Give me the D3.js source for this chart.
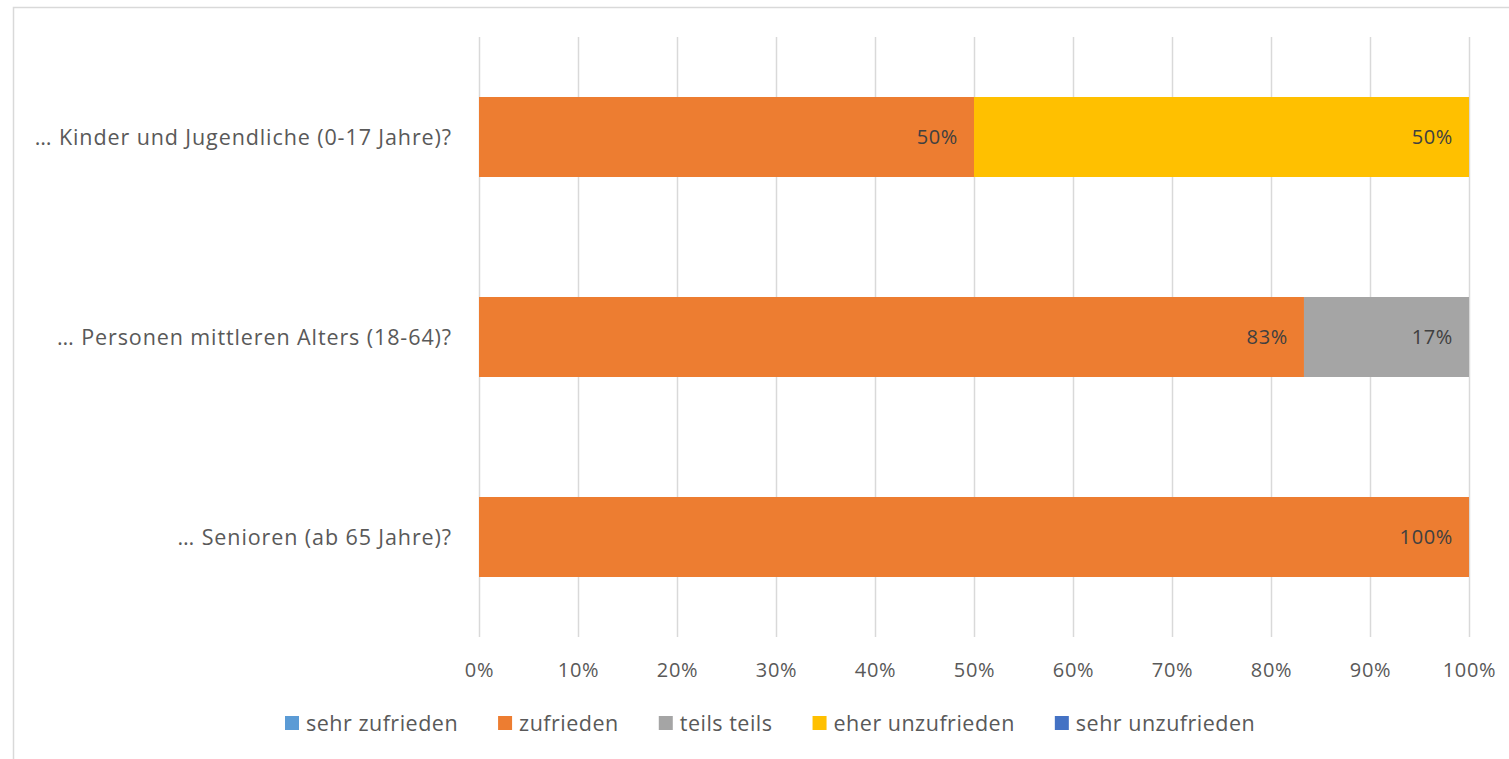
<!DOCTYPE html>
<html>
<head>
<meta charset="utf-8">
<script src="https://cdn.jsdelivr.net/npm/d3@7"></script>
<style>
  html, body { margin: 0; padding: 0; background: #fff; }
  svg { display: block; font-family: "Open Sans", sans-serif; }
</style>
</head>
<body>
<svg id="chart" width="1509" height="759"></svg>
<script>
// Survey answers: share of responses per age group
const categories = [
  "… Kinder und Jugendliche (0-17 Jahre)?",
  "… Personen mittleren Alters (18-64)?",
  "… Senioren (ab 65 Jahre)?"
];
const seriesNames = ["sehr zufrieden", "zufrieden", "teils teils", "eher unzufrieden", "sehr unzufrieden"];
const seriesColors = ["#5B9BD5", "#ED7D31", "#A5A5A5", "#FFC000", "#4472C4"];
const sehrZufrieden   = [0, 0, 0];
const zufrieden       = [50, 83.33, 100];
const teilsTeils      = [0, 16.67, 0];
const eherUnzufrieden = [50, 0, 0];
const sehrUnzufrieden = [0, 0, 0];
const xTicks = [0, 10, 20, 30, 40, 50, 60, 70, 80, 90, 100];

const seriesValues = [sehrZufrieden, zufrieden, teilsTeils, eherUnzufrieden, sehrUnzufrieden];
const rows = categories.map((c, i) => {
  const r = { cat: c };
  seriesNames.forEach((s, k) => r[s] = seriesValues[k][i]);
  return r;
});
const stacked = d3.stack().keys(seriesNames)(rows);

const svg = d3.select("#chart");
const textColor = "#595959";
const labelFont = "21.5px";
const smallFont = "20px";
const spacing = "0.65px";

// chart frame
svg.append("rect")
  .attr("x", 13.5).attr("y", 7.5)
  .attr("width", 1509).attr("height", 800)
  .attr("fill", "none").attr("stroke", "#D9D9D9").attr("stroke-width", 1.5);

const plot = { left: 479, right: 1469, top: 37, bottom: 637 };
const x = d3.scaleLinear().domain([0, 100]).range([plot.left, plot.right]);
const y = d3.scaleBand().domain(categories).range([plot.top, plot.bottom]).paddingInner(0.6).paddingOuter(0.3);

// vertical gridlines
svg.append("g").selectAll("line").data(xTicks).join("line")
  .attr("x1", d => Math.round(x(d)) + 0.5).attr("x2", d => Math.round(x(d)) + 0.5)
  .attr("y1", plot.top).attr("y2", plot.bottom)
  .attr("stroke", "#D9D9D9").attr("stroke-width", 1.5);

// x axis labels
const xAxis = d3.axisBottom(x).tickValues(xTicks).tickFormat(d => d + "%").tickSize(0).tickPadding(0);
const gx = svg.append("g").attr("transform", `translate(0,${plot.bottom})`).call(xAxis);
gx.select(".domain").remove();
gx.selectAll("text")
  .attr("y", 40).attr("dy", null)
  .attr("fill", textColor).style("font-size", smallFont).style("letter-spacing", spacing)
  .style("font-family", "'Open Sans', sans-serif");

// y axis labels
const yAxis = d3.axisLeft(y).tickSize(0).tickPadding(0);
const gy = svg.append("g").attr("transform", `translate(${452},0)`).call(yAxis);
gy.select(".domain").remove();
gy.selectAll("text")
  .attr("dy", "0.35em")
  .attr("fill", textColor).style("font-size", labelFont).style("letter-spacing", "0.9px")
  .style("font-family", "'Open Sans', sans-serif");

// stacked bars
const layers = svg.append("g").selectAll("g").data(stacked).join("g")
  .attr("fill", (d, i) => seriesColors[i]);
layers.selectAll("rect").data(d => d.filter(p => p[1] - p[0] > 0)).join("rect")
  .attr("x", p => x(p[0]))
  .attr("y", p => y(p.data.cat))
  .attr("width", p => x(p[1]) - x(p[0]))
  .attr("height", y.bandwidth());

// value labels at inside end of each segment
layers.selectAll("text").data(d => d.filter(p => p[1] - p[0] > 0)).join("text")
  .attr("x", p => x(p[1]) - 16)
  .attr("y", p => y(p.data.cat) + y.bandwidth() / 2)
  .attr("dy", "0.35em")
  .attr("text-anchor", "end")
  .attr("fill", "#404040")
  .style("font-size", smallFont).style("letter-spacing", spacing)
  .text(p => Math.round(p[1] - p[0]) + "%");

// legend
const legend = svg.append("g").attr("transform", "translate(285,723)");
let lx = 0;
seriesNames.forEach((s, i) => {
  const g = legend.append("g").attr("transform", `translate(${lx},0)`);
  g.append("rect").attr("x", 0).attr("y", -7).attr("width", 14).attr("height", 14).attr("fill", seriesColors[i]);
  const t = g.append("text").attr("x", 21).attr("dy", "0.35em")
    .attr("fill", textColor).style("font-size", labelFont).style("letter-spacing", "0.5px").text(s);
  lx += 21 + t.node().getComputedTextLength() + 40;
});
</script>
</body>
</html>
